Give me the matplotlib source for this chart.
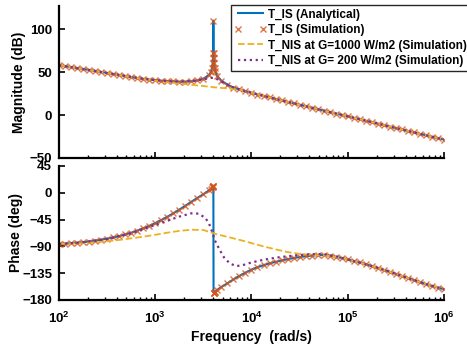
import numpy as np
import matplotlib
matplotlib.use('Agg')
import matplotlib.pyplot as plt
from matplotlib.ticker import LogLocator, NullFormatter

plt.rcParams['font.family'] = ['Liberation Sans', 'DejaVu Sans']
plt.rcParams['font.weight'] = 'bold'
plt.rcParams['mathtext.fontset'] = 'custom'
plt.rcParams['mathtext.rm'] = 'Liberation Sans:bold'
plt.rcParams['mathtext.it'] = 'Liberation Sans:bold'
plt.rcParams['mathtext.bf'] = 'Liberation Sans:bold'
plt.rcParams['mathtext.default'] = 'rm'

# T_IS (analytical + simulation), log10 of frequency in rad/s
is_exp = [2.0, 2.0625, 2.125, 2.1875, 2.25, 2.3125, 2.375, 2.4375, 2.5, 2.5625,
          2.625, 2.6875, 2.75, 2.8125, 2.875, 2.9375, 3.0, 3.0625, 3.125, 3.1875,
          3.25, 3.3125, 3.375, 3.4375, 3.5, 3.5625,
          3.58, 3.59, 3.597, 3.6, 3.602, 3.604, 3.606, 3.608, 3.611, 3.618,
          3.625, 3.64,
          3.6875, 3.75, 3.8125, 3.875, 3.9375, 4.0, 4.0625, 4.125, 4.1875, 4.25,
          4.3125, 4.375, 4.4375, 4.5, 4.5625, 4.625, 4.6875, 4.75, 4.8125, 4.875,
          4.9375, 5.0, 5.0625, 5.125, 5.1875, 5.25, 5.3125, 5.375, 5.4375, 5.5,
          5.5625, 5.625, 5.6875, 5.75, 5.8125, 5.875, 5.9375, 6.0]
is_mag = [58.0, 56.9, 55.8, 54.7, 53.6, 52.5, 51.4, 50.2, 49.0, 47.8,
          46.7, 45.5, 44.3, 43.2, 42.2, 41.3, 40.6, 40.0, 39.5, 39.1,
          38.9, 39.0, 39.4, 40.3, 42.3, 47.0,
          50.5, 55.0, 61.0, 66.0, 72.0, 110.0, 72.0, 66.0, 61.0, 55.0,
          51.0, 46.0,
          40.0, 35.5, 32.0, 29.8, 27.8, 26.0, 23.9, 22.2, 20.5, 18.8,
          17.1, 15.4, 13.7, 12.0, 10.3, 8.6, 6.9, 5.2, 3.5, 1.8,
          0.2, -1.5, -3.2, -4.9, -6.6, -8.3, -10.0, -11.7, -13.4, -15.1,
          -16.8, -18.5, -20.2, -21.9, -23.6, -25.3, -27.0, -28.5]
is_phase = [-86.0, -85.5, -84.8, -84.0, -83.0, -81.8, -80.4, -78.8, -77.0, -75.0,
            -72.7, -70.0, -67.0, -63.5, -59.7, -55.5, -51.0, -45.8, -40.3, -34.5,
            -28.3, -21.8, -15.2, -8.6, -2.5, 4.5,
            7.0, 9.0, 10.5, 11.0, 11.5, 12.0, -168.0, -168.0, -167.5, -166.5,
            -166.0, -163.5,
            -158.0, -152.0, -145.5, -139.5, -134.0, -129.0, -125.0, -121.5, -118.5, -116.0,
            -113.5, -111.5, -109.5, -108.0, -106.5, -105.5, -104.8, -104.5, -105.5, -107.5,
            -109.5, -112.0, -114.5, -117.0, -120.0, -123.0, -126.0, -129.3, -132.7, -136.0,
            -139.5, -143.0, -146.5, -150.0, -153.3, -156.5, -159.3, -162.0]

# T_NIS at G=1000 W/m2
nis1000_exp = [2.0, 2.125, 2.25, 2.375, 2.5, 2.625, 2.75, 2.875, 3.0, 3.125,
               3.25, 3.375, 3.5, 3.625, 3.75, 3.875, 4.0, 4.125, 4.25, 4.375,
               4.5, 4.625, 4.75, 4.875, 5.0, 5.25, 5.5, 5.75, 6.0]
nis1000_mag = [58.0, 55.8, 53.6, 51.4, 49.0, 46.7, 44.3, 42.0, 40.0, 38.2,
               36.8, 35.2, 33.8, 32.2, 31.0, 29.6, 26.0, 22.2, 18.8, 15.4,
               12.0, 8.6, 5.2, 1.8, -1.5, -8.3, -15.1, -21.9, -28.5]
nis1000_phase = [-86.0, -85.3, -84.5, -83.2, -81.5, -79.2, -76.5, -73.7, -70.5, -67.0,
                 -64.0, -62.0, -62.5, -69.0, -74.0, -79.0, -84.5, -90.0, -95.0, -99.5,
                 -102.5, -104.5, -105.0, -107.5, -112.0, -123.0, -136.0, -150.0, -162.0]

# T_NIS at G=200 W/m2
nis200_mag_exp = [2.0, 2.125, 2.25, 2.375, 2.5, 2.625, 2.75, 2.875, 3.0, 3.125,
                  3.25, 3.375, 3.5, 3.56, 3.604, 3.65, 3.72, 3.8, 3.875, 4.0,
                  4.25, 4.5, 4.75, 5.0, 5.25, 5.5, 5.75, 6.0]
nis200_mag = [58.0, 55.8, 53.6, 51.4, 49.0, 46.7, 44.3, 42.2, 40.6, 39.5,
              39.0, 39.6, 41.5, 43.0, 43.5, 41.5, 37.0, 32.8, 29.8, 26.0,
              18.8, 12.0, 5.2, -1.5, -8.3, -15.1, -21.9, -28.5]
nis200_ph_exp = [2.0, 2.25, 2.5, 2.75, 3.0, 3.125, 3.25, 3.375, 3.45, 3.52,
                 3.56, 3.59, 3.604, 3.62, 3.67, 3.72, 3.78, 3.84, 3.9, 4.0,
                 4.125, 4.25, 4.375, 4.5, 4.625, 4.75, 4.875, 5.0, 5.25, 5.5,
                 5.75, 6.0]
nis200_phase = [-86.0, -83.0, -77.5, -68.0, -54.0, -47.0, -40.0, -34.5, -35.0, -42.0,
                -52.0, -65.0, -72.0, -80.0, -96.0, -110.0, -119.0, -123.0, -122.0, -117.0,
                -112.5, -109.0, -106.5, -104.5, -103.0, -103.0, -106.5, -112.0, -123.0, -136.0,
                -150.0, -162.0]

labels = ['T_IS (Analytical)', 'T_IS (Simulation)',
          'T_NIS at G=1000 W/m2 (Simulation)', 'T_NIS at G= 200 W/m2 (Simulation)']

c_blue = '#0072BD'
c_orange = '#D95319'
c_yellow = '#EDB120'
c_purple = '#7E2F8E'

w_is = 10 ** np.array(is_exp)
w_1000 = 10 ** np.array(nis1000_exp)
w_200m = 10 ** np.array(nis200_mag_exp)
w_200p = 10 ** np.array(nis200_ph_exp)

fig = plt.figure(figsize=(4.67, 3.51), dpi=100)
ax1 = fig.add_axes([0.1263, 0.5499, 0.8244, 0.4330])
ax2 = fig.add_axes([0.1263, 0.1453, 0.8244, 0.3818])

for ax, y_is, y_1000, y_200, w200 in [(ax1, is_mag, nis1000_mag, nis200_mag, w_200m),
                                      (ax2, is_phase, nis1000_phase, nis200_phase, w_200p)]:
    ax.plot(w_is, y_is, '-', color=c_blue, lw=1.5, label=labels[0])
    ax.plot(w_is, y_is, 'x', color=c_orange, ms=4, mew=1, alpha=0.8, label=labels[1])
    ax.plot(w_1000, y_1000, '--', color=c_yellow, lw=1.3, label=labels[2])
    ax.plot(w200, y_200, ':', color=c_purple, lw=1.6, label=labels[3])
    ax.set_xscale('log')
    ax.set_xlim(1e2, 1e6)
    ax.spines['top'].set_visible(False)
    ax.spines['right'].set_visible(False)
    for s in ['left', 'bottom']:
        ax.spines[s].set_linewidth(1.6)
    ax.xaxis.set_minor_locator(LogLocator(base=10, subs=np.arange(2, 10), numticks=20))
    ax.tick_params(which='major', direction='in', length=4, width=1.2, labelsize=9.5)
    ax.tick_params(axis='y', pad=5)
    ax.tick_params(axis='x', pad=8)
    ax.tick_params(which='minor', direction='in', length=2.5, width=1.0)

ax1.set_ylim(-50, 127)
ax1.set_yticks([-50, 0, 50, 100])
ax1.xaxis.set_major_formatter(NullFormatter())
ax1.xaxis.set_minor_formatter(NullFormatter())
ax1.set_ylabel('Magnitude (dB)', fontsize=10, fontweight='bold')
ax1.yaxis.set_label_coords(-0.086, 0.5)

ax2.set_ylim(-180, 45)
ax2.set_yticks([45, 0, -45, -90, -135, -180])
ax2.set_ylabel('Phase (deg)', fontsize=10, fontweight='bold')
ax2.yaxis.set_label_coords(-0.094, 0.5)
ax2.set_xlabel('Frequency  (rad/s)', fontsize=10, fontweight='bold', labelpad=3)

leg = ax1.legend(loc='upper left', bbox_to_anchor=(231 / 467, 1 - 5 / 351),
                 bbox_transform=fig.transFigure, fontsize=8.5, numpoints=2,
                 handlelength=2.7, handletextpad=0.1, labelspacing=0.3,
                 borderpad=0.3, borderaxespad=0, fancybox=False, framealpha=1)
leg.get_frame().set_edgecolor('#262626')
leg.get_frame().set_linewidth(1.0)
for t in leg.get_texts():
    t.set_fontweight('bold')

fig.savefig('out.png', dpi=100)
